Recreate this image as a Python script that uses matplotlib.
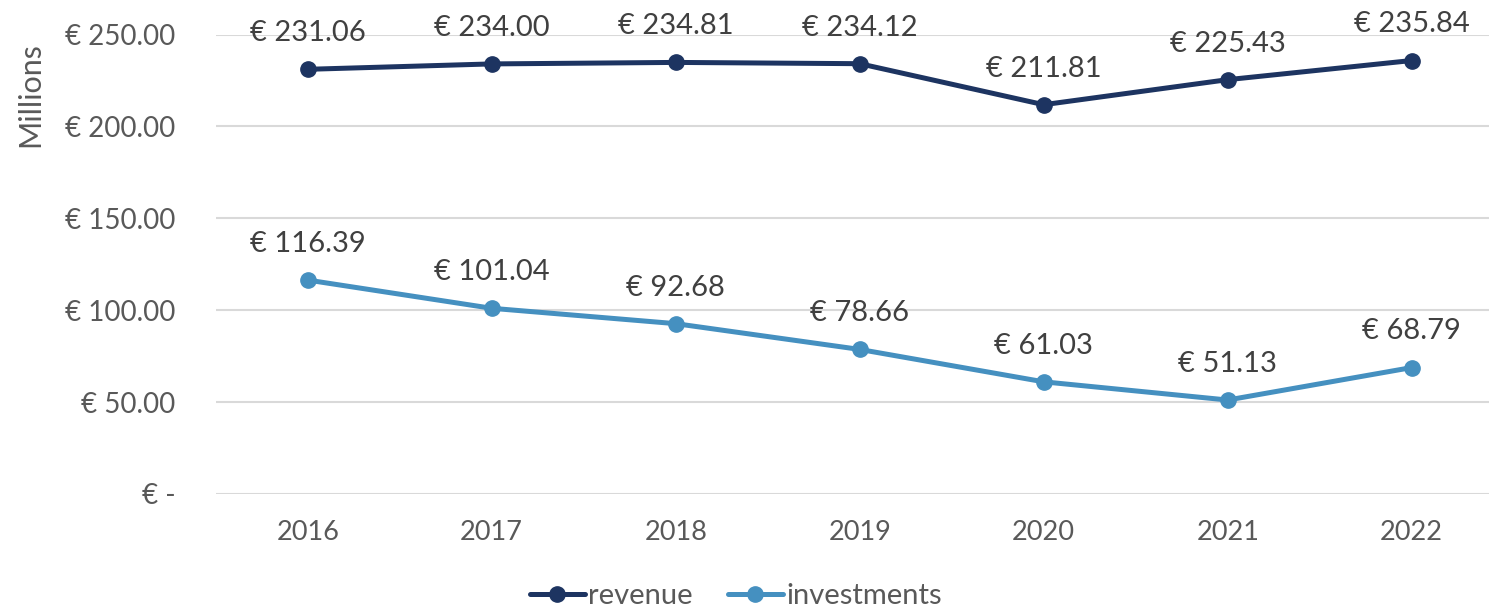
import matplotlib.pyplot as plt
from matplotlib.ticker import FixedLocator, FixedFormatter

plt.rcParams['font.family'] = ['Lato', 'DejaVu Sans']

years = ['2016', '2017', '2018', '2019', '2020', '2021', '2022']
revenue = [231.06, 234.00, 234.81, 234.12, 211.81, 225.43, 235.84]
investments = [116.39, 101.04, 92.68, 78.66, 61.03, 51.13, 68.79]

y_ticks = [0, 50, 100, 150, 200, 250]
y_tick_labels = ['€ -', '€ 50.00', '€ 100.00', '€ 150.00', '€ 200.00', '€ 250.00']

navy = '#1D3461'
blue = '#4590C0'
grid = '#D9D9D9'
tick_col = '#595959'
label_col = '#404040'

fig = plt.figure(figsize=(14.89, 6.09), dpi=100)
W, H = 1489, 609
# plot area in pixels (right edge runs a little past the image)
left, right, top, bottom = 215.7, 1503.7, 34.5, 494
ax = fig.add_axes([left / W, 1 - bottom / H, (right - left) / W, (bottom - top) / H])

x = list(range(len(years)))
ax.plot(x, revenue, color=navy, lw=3.6, marker='o', ms=11, label='revenue',
        solid_capstyle='round', clip_on=False, zorder=3)
ax.plot(x, investments, color=blue, lw=3.6, marker='o', ms=11, label='investments',
        solid_capstyle='round', clip_on=False, zorder=3)

for series in (revenue, investments):
    for xi, v in zip(x, series):
        ax.annotate(f'€ {v:.2f}', (xi, v), xytext=(0, 26), textcoords='offset points',
                    ha='center', va='center', fontsize=21, color=label_col,
                    annotation_clip=False)

ax.set_xlim(-0.5, len(years) - 0.5)
ax.set_ylim(0, 250)
ax.set_xticks(x)
ax.set_xticklabels(years)
ax.yaxis.set_major_locator(FixedLocator(y_ticks))
ax.yaxis.set_major_formatter(FixedFormatter(y_tick_labels))
ax.tick_params(axis='both', length=0, labelcolor=tick_col)
ax.tick_params(axis='y', pad=29, labelsize=20)
ax.tick_params(axis='x', pad=19, labelsize=19.5)
ax.grid(axis='y', color=grid, lw=1.5)
ax.set_axisbelow(True)
for s in ax.spines.values():
    s.set_visible(False)

fig.text(30 / W, 1 - 95 / H, 'Millions', rotation=90, ha='center', va='center',
         fontsize=22, color=tick_col)

fig.legend(loc='center', bbox_to_anchor=(0.494, 1 - 596 / H), ncol=2, frameon=False,
           fontsize=21, labelcolor=tick_col, handlelength=1.9, handletextpad=0.1,
           columnspacing=1.2)

plt.savefig('out.png', dpi=100)
